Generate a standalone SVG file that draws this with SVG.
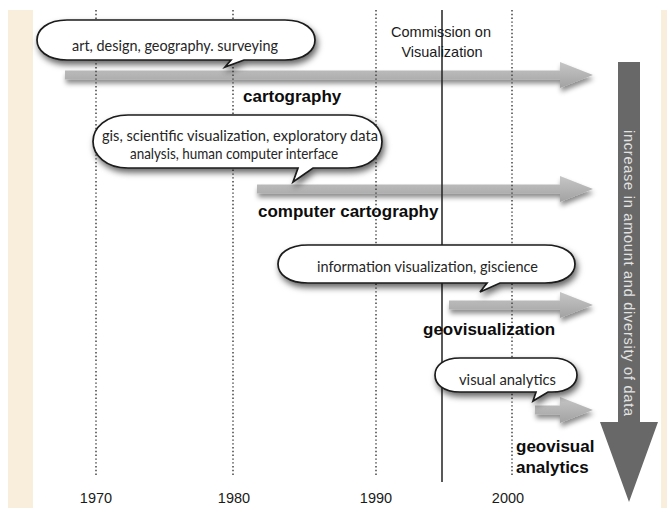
<svg xmlns="http://www.w3.org/2000/svg" width="667" height="508" viewBox="0 0 667 508">
<style>
.bg{fill:#ffffff}
.frame{fill:#f9eedc}
.dot{stroke:#444;stroke-width:1.5;stroke-dasharray:1.4 2.4;fill:none}
.solid{stroke:#222;stroke-width:1.5;fill:none}
.arrow{fill:url(#ag);filter:url(#ash)}
.bubble{fill:#fff;stroke:#1a1a1a;stroke-width:1.7;filter:url(#bsh)}
.btxt{font-family:Lato,"Open Sans","Noto Sans",sans-serif;font-size:16px;fill:#262626}
.btxt2{font-family:Lato,"Open Sans","Noto Sans",sans-serif;font-size:15px;fill:#262626}
.lbl{font-family:"Liberation Sans",Arial,sans-serif;font-size:17px;font-weight:bold;fill:#0d0d0d}
.yr{font-family:"Liberation Sans",Arial,sans-serif;font-size:14.5px;fill:#1a1a1a;text-anchor:middle}
.com{font-family:"Liberation Sans",Arial,sans-serif;font-size:14.5px;fill:#1a1a1a;text-anchor:middle}
.big{fill:#686868}
.bigtxt{font-family:"Liberation Sans",Arial,sans-serif;font-size:14.5px;fill:#e2e2e2;text-anchor:middle}
</style>
<defs>
<linearGradient id="ag" x1="0" y1="0" x2="0" y2="1">
<stop offset="0" stop-color="#c6c6c6"/>
<stop offset="1" stop-color="#a2a2a2"/>
</linearGradient>
<filter id="ash" x="-10%" y="-50%" width="120%" height="220%">
<feDropShadow dx="1" dy="4" stdDeviation="2.5" flood-color="#000" flood-opacity="0.45"/>
</filter>
<filter id="bsh" x="-10%" y="-30%" width="125%" height="180%">
<feDropShadow dx="2" dy="4" stdDeviation="3" flood-color="#000" flood-opacity="0.6"/>
</filter>
</defs>

<rect class="bg" x="0" y="0" width="667" height="508"/>
<rect class="frame" x="8" y="10" width="25" height="498"/>
<rect class="frame" x="661" y="10" width="6" height="498"/>

<g id="arrows">
<path id="arrow-cartography" class="arrow" d="M65,70.5 H560 V62 L593,75 L560,88 V79.5 H65 Z"/>
<path id="arrow-computer-cartography" class="arrow" d="M257,184.5 H560 V176 L593,189 L560,202 V193.5 H257 Z"/>
<path id="arrow-geovisualization" class="arrow" d="M449,300.5 H560 V292 L593,305 L560,318 V309.5 H449 Z"/>
<path id="arrow-geovisual-analytics" class="arrow" d="M535,405.5 H560 V397 L593,410 L560,423 V414.5 H535 Z"/>
</g>

<g id="timeline">
<line class="dot" x1="96" y1="10" x2="96" y2="476"/>
<line class="dot" x1="233" y1="10" x2="233" y2="476"/>
<line class="dot" x1="376" y1="10" x2="376" y2="476"/>
<line class="dot" x1="512" y1="10" x2="512" y2="476"/>
<line class="solid" x1="442" y1="10" x2="442" y2="482"/>
<text class="yr" x="96" y="503">1970</text>
<text class="yr" x="234" y="503">1980</text>
<text class="yr" x="376" y="503">1990</text>
<text class="yr" x="508" y="503">2000</text>
</g>

<g id="commission">
<text class="com" x="441" y="37">Commission on</text>
<text class="com" x="442" y="57">Visualization</text>
</g>

<g id="bubble-cartography">
<path class="bubble" d="M67,20 H285 C305,20 315,30 315,40 C315,50 305,60 285,60 H244 L225,67 L231,60 H67 C47,60 37,50 37,40 C37,30 47,20 67,20 Z"/>
<text class="btxt" x="72" y="51" textLength="206" lengthAdjust="spacingAndGlyphs">art, design, geography. surveying</text>
</g>

<g id="bubble-computer-cartography">
<path class="bubble" d="M128,115 H348 C370,115 382,128 382,141.5 C382,155 370,168 348,168 H313 L293,182 L298,168 H128 C106,168 93,155 93,141.5 C93,128 106,115 128,115 Z"/>
<text class="btxt2" x="102" y="141" textLength="276" lengthAdjust="spacingAndGlyphs">gis, scientific visualization, exploratory data</text>
<text class="btxt2" x="130" y="159" textLength="208" lengthAdjust="spacingAndGlyphs">analysis, human computer interface</text>
</g>

<g id="bubble-geovisualization">
<path class="bubble" d="M308,245 H545 C565,245 575,254 575,264 C575,274 565,283 545,283 H500 L480,292 L487,283 H308 C288,283 278,274 278,264 C278,254 288,245 308,245 Z"/>
<text class="btxt" x="317" y="272" textLength="221" lengthAdjust="spacingAndGlyphs">information visualization, giscience</text>
</g>

<g id="bubble-geovisual-analytics">
<path class="bubble" d="M460,358 H552 C569,358 577,366 577,375 C577,384 569,392 552,392 H548 L533,401 L536,392 H460 C443,392 435,384 435,375 C435,366 443,358 460,358 Z"/>
<text class="btxt" x="459" y="385" textLength="97" lengthAdjust="spacingAndGlyphs">visual analytics</text>
</g>

<g id="labels">
<text class="lbl" x="243" y="102">cartography</text>
<text class="lbl" x="258" y="217">computer cartography</text>
<text class="lbl" x="423" y="335">geovisualization</text>
<text class="lbl" x="516" y="452">geovisual</text>
<text class="lbl" x="516" y="473">analytics</text>
</g>

<g id="data-arrow">
<path class="big" d="M618,62 H640 V422 H658 L629,502 L600,422 H618 Z"/>
<text class="bigtxt" transform="translate(629,273) rotate(90)" x="0" y="5" textLength="286">increase in amount and diversity of data</text>
</g>
</svg>
